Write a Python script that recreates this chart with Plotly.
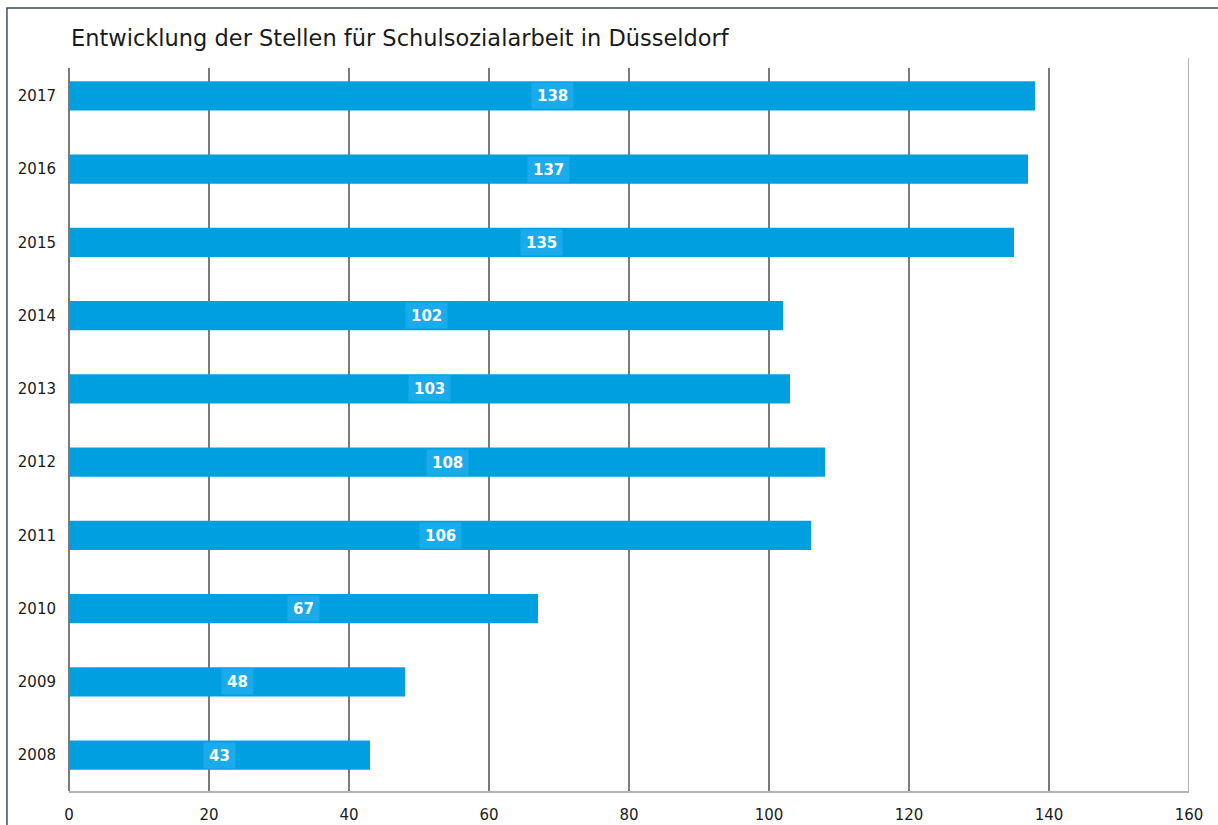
import plotly.graph_objects as go

years = ["2008", "2009", "2010", "2011", "2012", "2013", "2014", "2015", "2016", "2017"]
values = [43, 48, 67, 106, 108, 103, 102, 135, 137, 138]
x_ticks = [0, 20, 40, 60, 80, 100, 120, 140, 160]
title_text = "Entwicklung der Stellen für Schulsozialarbeit in Düsseldorf"

BAR = "#009FE0"
BOX = "#19ABEC"
FONT = "DejaVu Sans, Verdana, sans-serif"

fig = go.Figure()
fig.add_trace(go.Bar(
    x=values, y=years, orientation="h",
    marker=dict(color=BAR, line=dict(width=0)),
    width=0.4, hoverinfo="skip",
))

for i, v in enumerate(values):
    fig.add_annotation(
        x=v / 2, y=i, xref="x", yref="y", text=f"<b>{v}</b>",
        showarrow=False, font=dict(family=FONT, size=15, color="white"),
        bgcolor=BOX, borderpad=5, height=15, xanchor="center", yanchor="middle",
    )

fig.add_annotation(
    text=title_text, xref="paper", yref="paper", x=0.0, y=1.021,
    xanchor="left", yanchor="bottom", showarrow=False,
    font=dict(family=FONT, size=22.5, color="#1a1a1a"),
)

# outer frame
fig.add_shape(type="rect", xref="paper", yref="paper",
              x0=-0.0554, x1=1.05, y0=-0.08, y1=1.083,
              line=dict(color="#3d4f5c", width=1.5), fillcolor="rgba(0,0,0,0)",
              layer="below")
# right edge line lighter
fig.add_shape(type="line", xref="x", yref="paper", x0=160, x1=160, y0=0, y1=1.014,
              line=dict(color="#b4b4b4", width=2))

fig.update_layout(
    width=1218, height=825,
    margin=dict(l=69, r=29, t=68, b=34, autoexpand=False),
    paper_bgcolor="white", plot_bgcolor="white",
    showlegend=False,
    bargap=0.6,
    xaxis=dict(
        range=[0, 160], tickvals=x_ticks, ticktext=[str(t) for t in x_ticks],
        showgrid=True, gridcolor="#7a7a7a", gridwidth=1.5,
        zeroline=True, zerolinecolor="#7a7a7a", zerolinewidth=1.5,
        showline=True, linecolor="#b4b4b4", linewidth=2,
        ticks="", ticklabelstandoff=9, automargin=False,
        tickfont=dict(family=FONT, size=15, color="#1a1a1a"),
        fixedrange=True,
    ),
    yaxis=dict(
        type="category", categoryorder="array", categoryarray=years,
        range=[-0.49, 9.38], showgrid=False, zeroline=False, showline=False,
        ticks="", ticklabelstandoff=12, automargin=False,
        tickfont=dict(family=FONT, size=15, color="#1a1a1a"),
        fixedrange=True,
    ),
)

fig.write_html("out.html")
